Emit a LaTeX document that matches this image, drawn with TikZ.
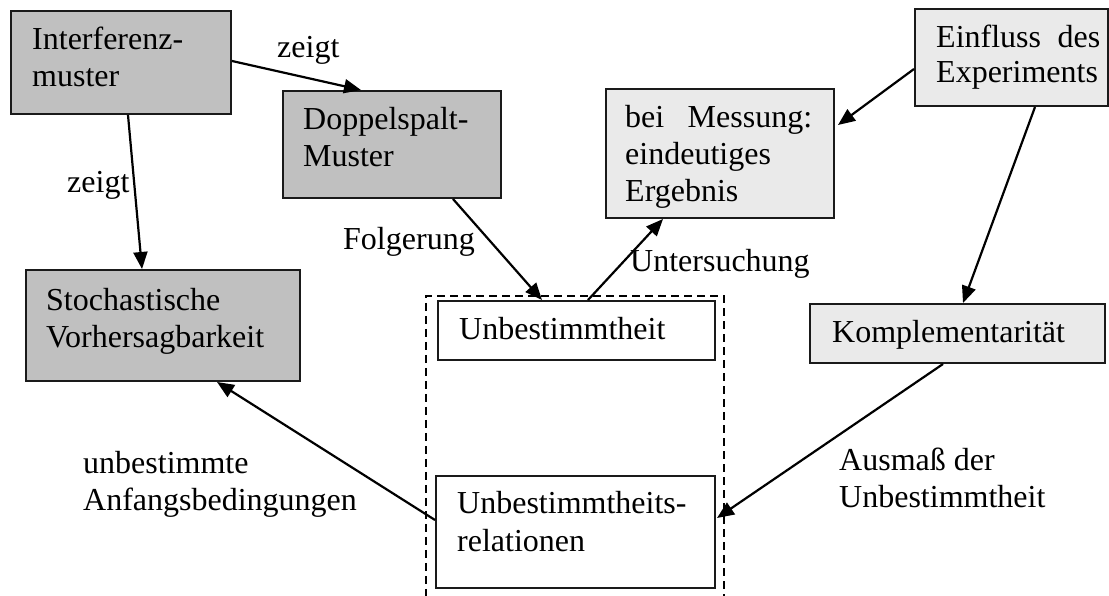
\documentclass[tikz,border=0pt]{standalone}
\usepackage{fontspec}
\setmainfont{Liberation Serif}
\usetikzlibrary{arrows.meta}
\definecolor{darkbox}{HTML}{C0C0C0}
\definecolor{lightbox}{HTML}{EAEAEA}
\definecolor{edge}{HTML}{1A1A1A}
\newcommand\twoline[3][37pt]{\vtop{\baselineskip=#1\hbox{#2}\hbox{#3}}}
\newcommand\threeline[3]{\vtop{\baselineskip=37pt\hbox{#1}\hbox{#2}\hbox{#3}}}
\tikzset{
  box/.style={draw=edge, line width=2pt, rectangle, inner sep=0pt, anchor=north west},
  dbox/.style={box, fill=darkbox},
  lbox/.style={box, fill=lightbox},
  wbox/.style={box, fill=white},
  txt/.style={inner sep=0pt, anchor=base west, font=\fontsize{32pt}{37pt}\selectfont},
  conn/.style={line width=2.2pt, -{Triangle[length=17pt,width=14pt]}},
  grpbox/.style={draw=black, line width=1.6pt, dash pattern=on 8pt off 5pt, rectangle, inner sep=0pt, anchor=north west}
}
\begin{document}
\begin{tikzpicture}[x=1pt,y=-1pt]
\useasboundingbox (0,0) rectangle (1109,596);
\fill[white] (0,0) rectangle (1109,596);
\clip (0,0) rectangle (1109,596);

% group frame
\node[grpbox, minimum width=298pt, minimum height=320pt] (grp) at (425,295) {};

% boxes
\node[dbox, minimum width=220pt, minimum height=103pt] (inter) at (10,10) {};
\node[dbox, minimum width=218pt, minimum height=107pt] (dopp) at (282,90) {};
\node[lbox, minimum width=228pt, minimum height=129pt] (mess) at (605,88) {};
\node[lbox, minimum width=193pt, minimum height=97pt] (einf) at (914,8) {};
\node[dbox, minimum width=274pt, minimum height=111pt] (stoch) at (25,269) {};
\node[wbox, minimum width=277pt, minimum height=59pt] (unb) at (437,300) {};
\node[lbox, minimum width=295pt, minimum height=59pt] (komp) at (809,303) {};
\node[wbox, minimum width=279pt, minimum height=112pt] (rel) at (435,475) {};

% box texts
\node[txt] (inter-t) at (32,50) {\twoline{Interferenz-}{muster}};
\node[txt] (dopp-t) at (303,130) {\twoline{Doppelspalt-}{Muster}};
\node[txt] (mess-t) at (625,128) {\threeline{\makebox[187pt][s]{bei\hfill Messung:}}{eindeutiges}{Ergebnis}};
\node[txt] (einf-t) at (936,48) {\twoline[35pt]{\makebox[164pt][s]{Einfluss\hfill des}}{Experiments}};
\node[txt] (stoch-t) at (46,310) {\twoline{Stochastische}{Vorhersagbarkeit}};
\node[txt] (unb-t) at (459,339) {Unbestimmtheit};
\node[txt] (komp-t) at (832,342) {Komplementarität};
\node[txt] (rel-t) at (457,513) {\twoline[38pt]{Unbestimmtheits-}{relationen}};

% connector labels
\node[txt] (l-zeigt1) at (277,58) {zeigt};
\node[txt] (l-zeigt2) at (67,193) {zeigt};
\node[txt] (l-folg) at (343,250) {Folgerung};
\node[txt] (l-unters) at (630,272) {Untersuchung};
\node[txt] (l-anf) at (83,473) {\twoline{unbestimmte}{Anfangsbedingungen}};
\node[txt] (l-ausm) at (839,470) {\twoline{Ausmaß der}{Unbestimmtheit}};

% connectors
\draw[conn] ([yshift=1.5pt]inter.east) -- ([xshift=79pt]dopp.north west);
\draw[conn] ([xshift=118pt]inter.south west) -- ([xshift=117pt]stoch.north west);
\draw[conn] ([xshift=171pt]dopp.south west) -- ([xshift=105pt]unb.north west);
\draw[conn] ([xshift=151pt]unb.north west) -- ([xshift=58pt]mess.south west);
\draw[conn] ([yshift=-11.5pt]einf.west) -- ([yshift=-37pt,xshift=3pt]mess.north east);
\draw[conn] ([xshift=121pt]einf.south west) -- ([xshift=154pt]komp.north west);
\draw[conn] ([xshift=134pt]komp.south west) -- ([yshift=-43pt,xshift=1pt]rel.north east);
\draw[conn] ([yshift=-45pt]rel.north west) -- ([xshift=192pt]stoch.south west);
\end{tikzpicture}
\end{document}
